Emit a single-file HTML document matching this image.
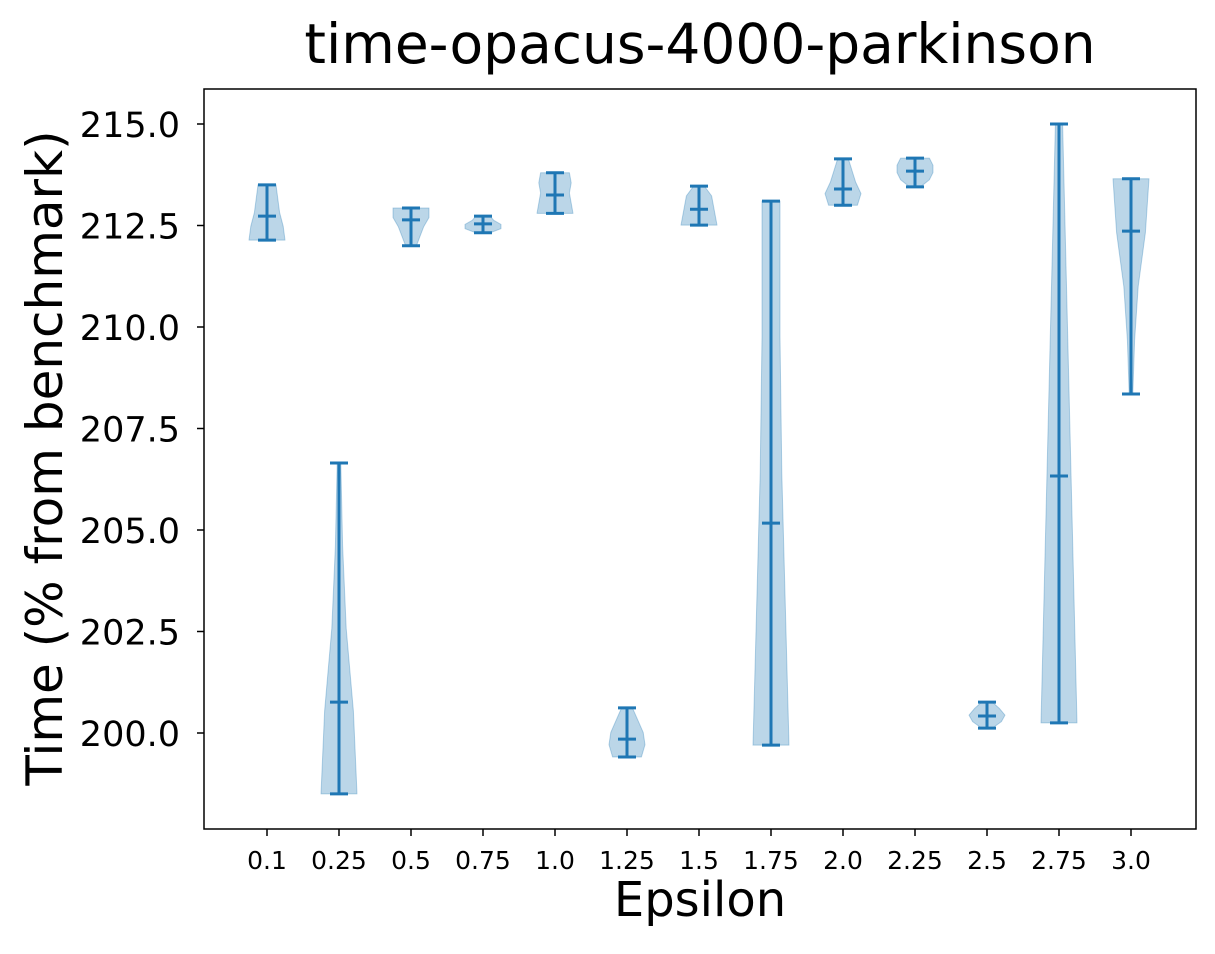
<!DOCTYPE html>
<html><head><meta charset="utf-8"><style>
body{margin:0;background:#fff}
svg text{font-family:"DejaVu Sans","Liberation Sans",sans-serif;fill:#000}
</style></head><body>
<svg width="1215" height="949" viewBox="0 0 1215 949" id="c">
<rect width="1215" height="949" fill="#fff"/>
<text x="700" y="63" font-size="55" text-anchor="middle">time-opacus-4000-parkinson</text>
<text x="700" y="916" font-size="48" text-anchor="middle">Epsilon</text>
<text transform="translate(62,458) rotate(-90)" font-size="50" text-anchor="middle">Time (% from benchmark)</text>
<g id="plot"></g>
<rect x="204" y="89" width="992" height="740" fill="none" stroke="#000" stroke-width="1.5"/>
</svg>
<script>
const categories=["0.1","0.25","0.5","0.75","1.0","1.25","1.5","1.75","2.0","2.25","2.5","2.75","3.0"];
const mins=[212.14,198.5,212.0,212.32,212.8,199.41,212.51,199.7,213.0,213.45,200.12,200.25,208.35];
const maxs=[213.5,206.65,212.93,212.73,213.8,200.62,213.47,213.1,214.14,214.16,200.76,215.0,213.65];
const mids=[212.73,200.76,212.64,212.54,213.25,199.85,212.9,205.17,213.4,213.84,200.42,206.33,212.36];
const shapes=[[1,0.9,0.7,0.6,0.5],[1,0.8,0.4,0.2,0.1],[0.3,0.5,0.7,1,1],[0.4,1,1,0.6,0.4],[1,0.9,0.8,0.9,0.8],[0.8,1,0.9,0.6,0.3],[1,0.9,0.8,0.7,0.3],[1,0.8,0.6,0.5,0.5],[0.8,1,0.7,0.5,0.3],[0.3,0.8,1,1,0.8],[0.3,0.8,1,0.7,0.3],[1,0.8,0.6,0.4,0.2],[0.1,0.2,0.4,0.8,1]];
const yTicks=[200.0,202.5,205.0,207.5,210.0,212.5,215.0];
const NS="http://www.w3.org/2000/svg";
const g=document.getElementById('plot');
const X=i=>267+i*72;
const Y=v=>733-(v-200)*40.6;
function el(t,a){const e=document.createElementNS(NS,t);for(const k in a)e.setAttribute(k,a[k]);g.appendChild(e);return e;}
yTicks.forEach(v=>{
 const l=el('line',{x1:197,x2:204,y1:Y(v),y2:Y(v),stroke:'#000','stroke-width':1.5});
 
 
 const t=el('text',{x:180,y:Y(v)+13,'font-size':35,'text-anchor':'end'});t.textContent=v.toFixed(1);
 
 
});
categories.forEach((c,i)=>{
 const x=X(i);
 const l=el('line',{x1:x,x2:x,y1:829,y2:836,stroke:'#000','stroke-width':1.5});
 
 
 const t=el('text',{x:x,y:869,'font-size':25,'text-anchor':'middle'});t.textContent=c;
 
 
 const s=shapes[i],n=s.length,hw=18;
 let pts=[];
 for(let k=0;k<n;k++){const v=mins[i]+(maxs[i]-mins[i])*k/(n-1);pts.push([x+s[k]*hw,Y(v)]);}
 for(let k=n-1;k>=0;k--){const v=mins[i]+(maxs[i]-mins[i])*k/(n-1);pts.push([x-s[k]*hw,Y(v)]);}
 const p=el('polygon',{points:pts.map(q=>q.join(',')).join(' '),fill:'#1f77b4','fill-opacity':0.3,stroke:'#1f77b4','stroke-opacity':0.3,'stroke-linejoin':'round'});
 
 
 const st={stroke:'#1f77b4','stroke-width':3};
 const v=el('line',Object.assign({x1:x,x2:x,y1:Y(mins[i]),y2:Y(maxs[i])},st));
 
 
 [[maxs[i],'max-cap'],[mins[i],'min-cap'],[mids[i],'mean-line']].forEach(([val,nm])=>{
  const h=el('line',Object.assign({x1:x-9,x2:x+9,y1:Y(val),y2:Y(val)},st));
  
  
 });
});
</script>
</body></html>
